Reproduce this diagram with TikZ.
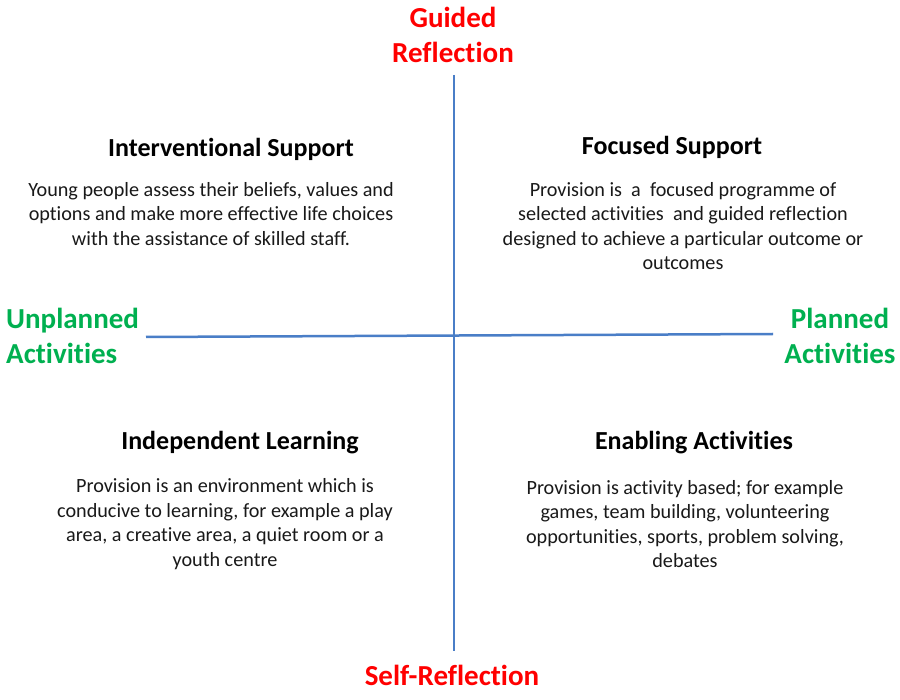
\documentclass[tikz,border=0pt]{standalone}
\usepackage{fontspec}
\setmainfont{Carlito}[Ligatures={NoCommon}]
\definecolor{axisblue}{HTML}{4A7EC7}
\definecolor{axred}{HTML}{FF0000}
\definecolor{axgreen}{HTML}{00B050}
\begin{document}
\begin{tikzpicture}[x=1pt,y=-1pt,
  axislabel/.style={font=\fontsize{29}{35}\selectfont\bfseries, align=center, inner sep=0pt},
  head/.style={font=\fontsize{26}{30}\selectfont\bfseries, inner sep=0pt},
  body/.style={font=\fontsize{20.2}{24.5}\selectfont, align=center, inner sep=0pt, color=black!90},
  axisline/.style={draw=axisblue, line width=2.5pt}]
\fill[white] (0,0) rectangle (900,700);
\useasboundingbox (0,0) rectangle (900,700);
\coordinate (vtop) at (454,75);
\coordinate (vbot) at (454,651);
\coordinate (hl) at (146,337);
\coordinate (hr) at (773,334);
\draw[axisline] (vtop) -- (vbot);
\draw[axisline] (hl) -- (hr);
\node[axislabel, text=axred] (guided) at (453,35) {Guided\\Reflection};
\node[axislabel, text=axred] (self) at (452,675) {Self-Reflection};
\node[axislabel, text=axgreen, align=left, anchor=west] (unpl) at (6,336) {Unplanned\\Activities};
\node[axislabel, text=axgreen] (pl) at (840,336) {Planned\\Activities};
\node[head] (h1) at (231,149) {Interventional Support};
\node[body] (b1) at (211,214) {Young people assess their beliefs, values and\\options and make more effective life choices\\with the assistance of skilled staff.};
\node[head] (h2) at (672,147) {Focused Support};
\node[body] (b2) at (683,226) {Provision is \ a \ focused programme of\\selected activities \ and guided reflection\\designed to achieve a particular outcome or\\outcomes};
\node[head] (h3) at (240,442.5) {Independent Learning};
\node[body] (b3) at (225,524) {Provision is an environment which is\\conducive to learning, for example a play\\area, a creative area, a quiet room or a\\youth centre};
\node[head] (h4) at (694,442.5) {Enabling Activities};
\node[body] (b4) at (685,524) {Provision is activity based; for example\\games, team building, volunteering\\opportunities, sports, problem solving,\\debates};
\end{tikzpicture}
\end{document}
